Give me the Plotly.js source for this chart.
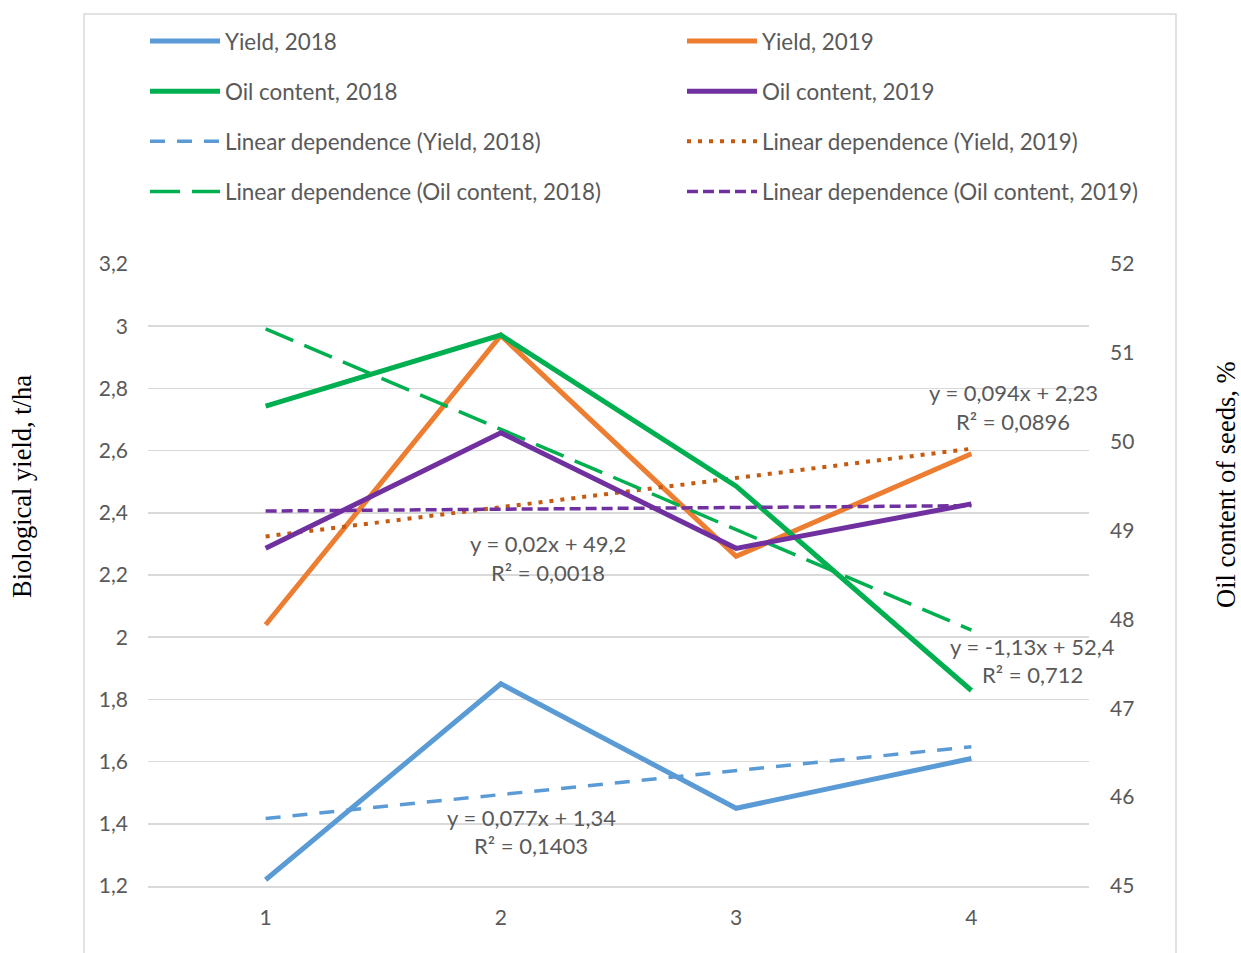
<!DOCTYPE html>
<html>
<head>
<meta charset="utf-8">
<script src="https://cdn.plot.ly/plotly-3.0.1.min.js"></script>
<style>
  html, body { margin: 0; padding: 0; background: #ffffff; }
  #chart { width: 1241px; height: 953px; }
</style>
</head>
<body>
<div id="chart"></div>
<script>
// ---- data ----
const categories = [1, 2, 3, 4];
const yield2018 = [1.22, 1.85, 1.45, 1.61];
const yield2019 = [2.04, 2.97, 2.26, 2.59];
const oil2018 = [50.4, 51.2, 49.5, 47.2];
const oil2019 = [48.8, 50.1, 48.8, 49.3];

const seriesNames = ["Yield, 2018", "Yield, 2019", "Oil content, 2018", "Oil content, 2019"];
const trendNames = ["Linear dependence (Yield, 2018)", "Linear dependence (Yield, 2019)",
                    "Linear dependence (Oil content, 2018)", "Linear dependence (Oil content, 2019)"];

const leftTickVals = [1.2, 1.4, 1.6, 1.8, 2.0, 2.2, 2.4, 2.6, 2.8, 3.0, 3.2];
const leftTickText = ["1,2", "1,4", "1,6", "1,8", "2", "2,2", "2,4", "2,6", "2,8", "3", "3,2"];
const rightTickVals = [45, 46, 47, 48, 49, 50, 51, 52];
const rightTickText = ["45", "46", "47", "48", "49", "50", "51", "52"];
const xTickText = ["1", "2", "3", "4"];

const eqYield2018 = ["y = 0,077x + 1,34", "R² = 0,1403"];
const eqYield2019 = ["y = 0,094x + 2,23", "R² = 0,0896"];
const eqOil2018 = ["y = -1,13x + 52,4", "R² = 0,712"];
const eqOil2019 = ["y = 0,02x + 49,2", "R² = 0,0018"];

const yTitleLeft = "Biological yield, t/ha";
const yTitleRight = "Oil content of seeds, %";

// ---- least-squares trend computed from the series ----
function linfit(xs, ys) {
  const n = xs.length;
  const mx = xs.reduce((a, b) => a + b, 0) / n;
  const my = ys.reduce((a, b) => a + b, 0) / n;
  let sxy = 0, sxx = 0;
  for (let i = 0; i < n; i++) { sxy += (xs[i] - mx) * (ys[i] - my); sxx += (xs[i] - mx) ** 2; }
  const b = sxy / sxx, a = my - b * mx;
  const x0 = xs[0], x1 = xs[n - 1];
  return { x: [x0, x1], y: [a + b * x0, a + b * x1] };
}

const C = { blue: "#5B9BD5", orange: "#ED7D31", green: "#00B050", purple: "#7030A0", brown: "#C55A11" };
const FONT = "Lato, 'Open Sans', sans-serif";
const GRAY = "#595959";

const t1 = linfit(categories, yield2018);
const t2 = linfit(categories, yield2019);
const t3 = linfit(categories, oil2018);
const t4 = linfit(categories, oil2019);

const traces = [
  { x: categories, y: yield2018, name: seriesNames[0], yaxis: "y", legend: "legend", legendgroup: "a1",
    mode: "lines", line: { color: C.blue, width: 5 } },
  { x: categories, y: oil2018, name: seriesNames[2], yaxis: "y2", legend: "legend", legendgroup: "a2",
    mode: "lines", line: { color: C.green, width: 5 } },
  { x: t1.x, y: t1.y, name: trendNames[0], yaxis: "y", legend: "legend", legendgroup: "a3",
    mode: "lines", line: { color: C.blue, width: 3.5, dash: "15px,12px" } },
  { x: t3.x, y: t3.y, name: trendNames[2], yaxis: "y2", legend: "legend", legendgroup: "a4",
    mode: "lines", line: { color: C.green, width: 3.5, dash: "30px,12px" } },
  { x: categories, y: yield2019, name: seriesNames[1], yaxis: "y", legend: "legend2", legendgroup: "b1",
    mode: "lines", line: { color: C.orange, width: 5 } },
  { x: categories, y: oil2019, name: seriesNames[3], yaxis: "y2", legend: "legend2", legendgroup: "b2",
    mode: "lines", line: { color: C.purple, width: 5 } },
  { x: t2.x, y: t2.y, name: trendNames[1], yaxis: "y", legend: "legend2", legendgroup: "b3",
    mode: "lines", line: { color: C.brown, width: 4, dash: "4px,7px" } },
  { x: t4.x, y: t4.y, name: trendNames[3], yaxis: "y2", legend: "legend2", legendgroup: "b4",
    mode: "lines", line: { color: C.purple, width: 3.5, dash: "11px,5px" } }
];

// pixel helpers for layout positions (plot area l=148, w=941, t=264, h=622)
const L = 148, W = 941, T = 264, H = 622;
const px = v => (v - L) / W;
const py = v => (T + H - v) / H;

function eq(lines, xc, y1, y2) {
  return [
    { text: lines[0], x: px(xc), y: py(y1) },
    { text: lines[1], x: px(xc), y: py(y2) }
  ];
}
const eqAnn = [].concat(
  eq(eqYield2019, 1013, 392, 421),
  eq(eqOil2019, 548, 543, 572),
  eq(eqOil2018, 1032, 646, 674),
  eq(eqYield2018, 531, 817, 845)
).map(a => Object.assign(a, {
  xref: "paper", yref: "paper", xanchor: "center", yanchor: "middle", showarrow: false,
  font: { family: FONT, size: 22, color: GRAY }
}));

const titleAnn = [
  { text: yTitleLeft, x: px(22), y: py(487), textangle: -90 },
  { text: yTitleRight, x: px(1226), y: py(485), textangle: -90 }
].map(a => Object.assign(a, {
  xref: "paper", yref: "paper", xanchor: "center", yanchor: "middle", showarrow: false,
  borderpad: 0,
  font: { family: "'Liberation Serif', 'Times New Roman', serif", size: 26.5, color: "#000000" }
}));

const legendCommon = {
  orientation: "v", xanchor: "left", yanchor: "top", bgcolor: "rgba(0,0,0,0)",
  font: { family: FONT, size: 22.4, color: GRAY }, itemwidth: 70, tracegroupgap: 18,
  traceorder: "grouped", itemclick: false, itemdoubleclick: false
};

const layout = {
  width: 1241, height: 953,
  margin: { l: L, r: 1241 - L - W, t: T, b: 953 - T - H, pad: 0 },
  paper_bgcolor: "#ffffff", plot_bgcolor: "#ffffff",
  font: { family: FONT, color: GRAY },
  showlegend: true,
  legend: Object.assign({}, legendCommon, { x: px(145), y: py(20) }),
  legend2: Object.assign({}, legendCommon, { x: px(682), y: py(20) }),
  xaxis: {
    range: [0.5, 4.5], tickmode: "array", tickvals: categories, ticktext: xTickText,
    showgrid: false, zeroline: false, showline: true, linecolor: "#d9d9d9", linewidth: 1.5,
    ticks: "", ticklabelstandoff: 12, tickfont: { family: FONT, size: 21, color: GRAY }
  },
  yaxis: {
    range: [1.2, 3.2], tickmode: "array", tickvals: leftTickVals, ticktext: leftTickText,
    showgrid: true, gridcolor: "#d9d9d9", gridwidth: 1.5, zeroline: false, showline: false,
    ticks: "", ticklabelstandoff: 19, tickfont: { family: FONT, size: 21, color: GRAY }
  },
  yaxis2: {
    range: [45, 52], overlaying: "y", side: "right", tickmode: "array",
    tickvals: rightTickVals, ticktext: rightTickText,
    showgrid: false, zeroline: false, showline: false,
    ticks: "", ticklabelstandoff: 20, tickfont: { family: FONT, size: 21, color: GRAY }
  },
  shapes: [
    { type: "rect", xref: "paper", yref: "paper",
      x0: px(84), x1: px(1176), y0: py(990), y1: py(14),
      line: { color: "#d9d9d9", width: 1.5 }, fillcolor: "rgba(0,0,0,0)", layer: "below" }
  ],
  annotations: eqAnn.concat(titleAnn)
};

Plotly.newPlot("chart", traces, layout, { displayModeBar: false, staticPlot: true });
</script>
</body>
</html>
